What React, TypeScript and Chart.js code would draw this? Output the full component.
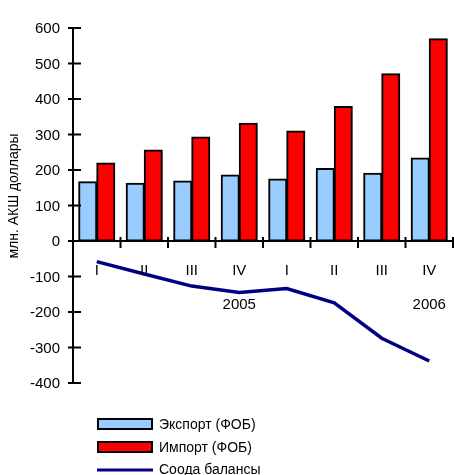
import React, { useEffect, useRef } from "react";
import { Chart, registerables } from "chart.js";

Chart.register(...registerables);

const quarters = ["I", "II", "III", "IV", "I", "II", "III", "IV"];
const years = ["", "", "", "2005", "", "", "", "2006"];
const exportValues = [167, 163, 169, 186, 175, 204, 191, 234];
const importValues = [220, 256, 293, 332, 310, 379, 471, 570];
const balanceValues = [-58, -93, -127, -145, -134, -174, -274, -338];
const yTicks = [600, 500, 400, 300, 200, 100, 0, -100, -200, -300, -400];
const seriesNames = ["Экспорт (ФОБ)", "Импорт (ФОБ)", "Соода балансы"];
const yTitle = "млн. АКШ доллары";

const FONT = "Liberation Sans, Arial, sans-serif";

const decorPlugin = {
  id: "decor",
  afterDatasetsDraw(chart: any) {
    const { ctx, chartArea } = chart;
    const xs = chart.scales.x;
    const ys = chart.scales.y;
    const left = chartArea.left;
    const right = chartArea.right;
    const y0 = ys.getPixelForValue(0);
    ctx.save();
    ctx.strokeStyle = "#000";
    ctx.fillStyle = "#000";
    ctx.lineWidth = 2;
    // y axis line
    ctx.beginPath();
    ctx.moveTo(left, ys.getPixelForValue(yTicks[0]));
    ctx.lineTo(left, ys.getPixelForValue(yTicks[yTicks.length - 1]));
    ctx.stroke();
    // y ticks & labels
    ctx.font = "15px " + FONT;
    ctx.textAlign = "right";
    ctx.textBaseline = "middle";
    yTicks.forEach((v) => {
      const py = ys.getPixelForValue(v);
      ctx.beginPath();
      ctx.moveTo(left - 5, py);
      ctx.lineTo(left + 8, py);
      ctx.stroke();
      ctx.fillText(String(v), left - 13, py + 1);
    });
    // x axis line
    ctx.beginPath();
    ctx.moveTo(left, y0);
    ctx.lineTo(right, y0);
    ctx.stroke();
    // x ticks
    const half = (xs.getPixelForValue(1) - xs.getPixelForValue(0)) / 2;
    for (let i = 0; i <= quarters.length; i++) {
      const px = i < quarters.length ? xs.getPixelForValue(i) - half : xs.getPixelForValue(i - 1) + half;
      ctx.beginPath();
      ctx.moveTo(px, y0 - 4);
      ctx.lineTo(px, y0 + 7);
      ctx.stroke();
    }
    // x labels
    ctx.textAlign = "center";
    quarters.forEach((q, i) => {
      const px = xs.getPixelForValue(i);
      ctx.fillText(q, px, y0 + 30);
      if (years[i]) ctx.fillText(years[i], px, y0 + 64);
    });
    // y title
    ctx.save();
    ctx.translate(14, 196);
    ctx.rotate(-Math.PI / 2);
    ctx.font = "14px " + FONT;
    ctx.textAlign = "center";
    ctx.textBaseline = "middle";
    ctx.fillText(yTitle, 0, 0);
    ctx.restore();
    // legend
    ctx.font = "14px " + FONT;
    ctx.textAlign = "left";
    ctx.textBaseline = "middle";
    const lx = 98;
    const rows = [424, 447, 469];
    const fills = ["#99CCFF", "#FF0000"];
    for (let i = 0; i < 2; i++) {
      ctx.fillStyle = fills[i];
      ctx.fillRect(lx, rows[i] - 5, 54, 10);
      ctx.lineWidth = 2;
      ctx.strokeStyle = "#000";
      ctx.strokeRect(lx, rows[i] - 5, 54, 10);
    }
    ctx.strokeStyle = "#000080";
    ctx.lineWidth = 3;
    ctx.beginPath();
    ctx.moveTo(lx - 1, rows[2] + 1);
    ctx.lineTo(lx + 55, rows[2] + 1);
    ctx.stroke();
    ctx.fillStyle = "#000";
    seriesNames.forEach((n, i) => ctx.fillText(n, 159, rows[i] + 1));
    ctx.restore();
  },
};

export default function App() {
  const ref = useRef<HTMLCanvasElement>(null);
  useEffect(() => {
    if (!ref.current) return;
    const chart = new Chart(ref.current, {
      type: "bar",
      data: {
        labels: quarters.map((q, i) => q + i),
        datasets: [
          {
            type: "bar",
            label: seriesNames[0],
            data: exportValues,
            backgroundColor: "#99CCFF",
            borderColor: "#000",
            borderWidth: 2,
            borderSkipped: false,
            inflateAmount: 0.5,
            categoryPercentage: 0.76,
            barPercentage: 1,
            order: 2,
          },
          {
            type: "bar",
            label: seriesNames[1],
            data: importValues,
            backgroundColor: "#FF0000",
            borderColor: "#000",
            borderWidth: 2,
            borderSkipped: false,
            inflateAmount: 0.5,
            categoryPercentage: 0.76,
            barPercentage: 1,
            order: 2,
          },
          {
            type: "line",
            label: seriesNames[2],
            data: balanceValues,
            borderColor: "#000080",
            borderWidth: 3.5,
            pointRadius: 0,
            tension: 0,
            fill: false,
            order: 1,
          } as any,
        ],
      },
      options: {
        responsive: false,
        animation: false,
        devicePixelRatio: 1,
        layout: { padding: { left: 73, top: 28, right: 1, bottom: 92 } },
        plugins: { legend: { display: false }, tooltip: { enabled: false } },
        scales: {
          x: { display: false, offset: true },
          y: { display: false, min: -400, max: 600 },
        },
      },
      plugins: [decorPlugin],
    });
    return () => chart.destroy();
  }, []);
  return (
    <div style={{ position: "fixed", left: 0, top: 0, width: 454, height: 475, background: "#fff" }}>
      <canvas ref={ref} width={454} height={475} style={{ display: "block" }} />
    </div>
  );
}
